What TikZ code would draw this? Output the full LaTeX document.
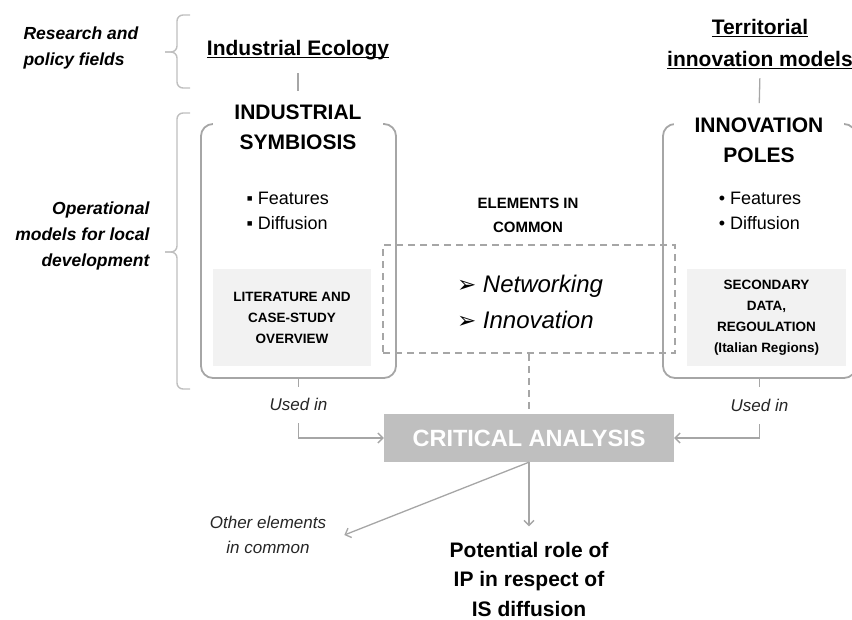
\documentclass[tikz,border=0pt]{standalone}
\usepackage{fontspec}
\setmainfont{Liberation Sans}
\newfontfamily\dejavu{DejaVu Sans}
\usetikzlibrary{arrows.meta}
\definecolor{linegray}{HTML}{A6A6A6}
\definecolor{bracegray}{HTML}{BFBFBF}
\definecolor{boxfill}{HTML}{F2F2F2}
\definecolor{cafill}{HTML}{BFBFBF}
\newcommand\ulword[1]{\setbox0\hbox{#1}\rlap{\rule[-2.6pt]{\wd0}{1.4pt}}\box0}
\newcommand\keyarrow{{\dejavu\upshape\fontsize{23}{36}\selectfont ➢}}
\begin{document}
\begin{tikzpicture}[x=1pt,y=-1pt,
	link/.style={draw=linegray, line width=1.3pt},
	arr/.style={link, -{Straight Barb[length=5pt,width=10pt]}},
	dashline/.style={draw=linegray, line width=1.8pt, dash pattern=on 7pt off 5pt},
	brace/.style={draw=bracegray, line width=1.4pt, rounded corners=6pt},
	field/.style={font=\fontsize{17.5}{26}\selectfont\bfseries\itshape},
	heading/.style={font=\fontsize{21}{32}\selectfont\bfseries, align=center},
	title/.style={heading, font=\fontsize{21}{30}\selectfont\bfseries, fill=white, minimum width=170pt},
	modelbox/.style={draw=linegray, line width=1.8pt, rounded corners=12pt, minimum height=254pt, inner sep=0pt},
	items/.style={font=\fontsize{18}{25}\selectfont, align=left},
	srcbox/.style={fill=boxfill, minimum height=97pt, align=center, font=\fontsize{13.5}{21}\selectfont\bfseries},
	note/.style={font=\fontsize{17}{25}\selectfont\itshape, text=black!85, fill=white, inner ysep=12pt},
	result/.style={font=\fontsize{21}{29.5}\selectfont\bfseries, align=center}]
\useasboundingbox (0,0) rectangle (852,619);

% fields and braces
\node [field, anchor=west, align=left] (research) at (20,48) {Research and\\policy fields};
\node [field, anchor=east, align=right] (operational) at (153,236) {Operational\\models for local\\development};
\draw [brace] (190,15) -- (177,15) -- (177,52) -- (165,52);
\draw [brace] (165,52) -- (177,52) -- (177,88) -- (190,88);
\draw [brace] (190,113) -- (177,113) -- (177,252) -- (165,252);
\draw [brace] (165,252) -- (177,252) -- (177,389) -- (190,389);

\node [heading] (ie) at (298,50) {\ulword{Industrial Ecology}};
\node [heading] (tim) at (760,44) {\ulword{Territorial}\\\ulword{innovation models}};

% the two models
\node [modelbox, minimum width=195pt] (isbox) at (298.5,251) {};
\node [modelbox, minimum width=193pt] (ipbox) at (759.5,251) {};
\node [title] (istitle) at (298,127) {INDUSTRIAL\\SYMBIOSIS};
\node [title] (iptitle) at (759,140) {INNOVATION\\POLES};
\node [items, anchor=west] (isitems) at (243,211) {▪ Features\\▪ Diffusion};
\node [items] (ipitems) at (760,211) {• Features\\• Diffusion};
\node [srcbox, minimum width=158pt] (litbox) at (292,317.5) {LITERATURE AND\\CASE-STUDY\\OVERVIEW};
\node [srcbox, minimum width=159pt] (secbox) at (766.5,317.5) {SECONDARY\\DATA,\\REGOULATION\\(Italian Regions)};

\draw [link, shorten <=10pt, shorten >=10pt] (ie.south) -- (istitle.north);
\draw [link, shorten <=6pt, shorten >=11pt] (tim.south) -- (iptitle.north);

% elements in common
\node [font=\fontsize{15}{24}\selectfont\bfseries, align=center] (elements) at (528,215) {ELEMENTS IN\\COMMON};
\node [dashline, minimum width=292pt, minimum height=108pt] (commonbox) at (529,299) {};
\node [font=\fontsize{24}{36}\selectfont\itshape, align=left] (keys) at (530,302) {\keyarrow\ Networking\\\keyarrow\ Innovation};

\node [fill=cafill, text=white, minimum width=290pt, minimum height=48pt, font=\fontsize{23.5}{28}\selectfont\bfseries] (ca) at (529,438) {CRITICAL ANALYSIS};
\node [note, align=center, inner xsep=18pt, fill=none] (other) at (268,535) {Other elements\\in common};
\node [result] (potential) at (529,579) {Potential role of\\IP in respect of\\IS diffusion};

\draw [arr] (isbox.south) |- node [note, pos=0.22] (usedis) {Used in} (ca.west);
\draw [arr] (ipbox.south) |- node [note, pos=0.225] (usedip) {Used in} (ca.east);
\draw [dashline] (commonbox.south) -- (ca.north);
\draw [arr, shorten >=12pt] (ca.south) -- (potential.north);
\draw [arr] (ca.south) -- (other.east);
\end{tikzpicture}
\end{document}
